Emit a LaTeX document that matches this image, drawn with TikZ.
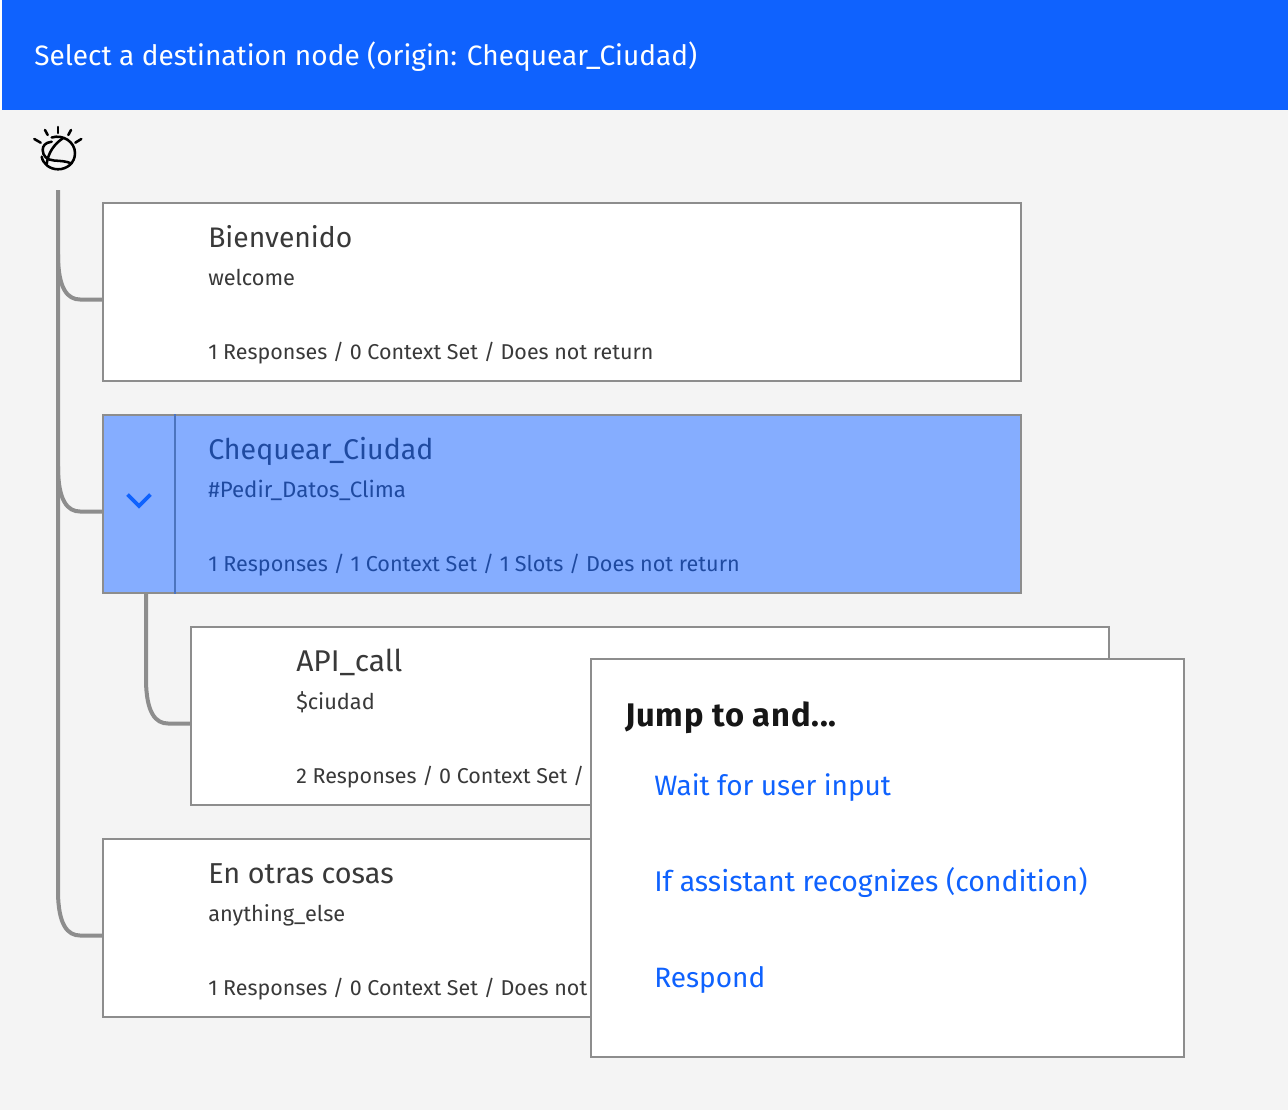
\documentclass[tikz,border=0pt]{standalone}
\usepackage{fontspec}
\setmainfont{Fira Sans}
\usetikzlibrary{calc}
\definecolor{hdr}{HTML}{0F62FE}
\definecolor{bgc}{HTML}{F4F4F4}
\definecolor{linec}{HTML}{8D8D8D}
\definecolor{selc}{HTML}{85ADFF}
\definecolor{txtc}{HTML}{393939}
\definecolor{seltxt}{HTML}{1F4AA0}
\definecolor{sepc}{HTML}{4C74BE}
\definecolor{headc}{HTML}{161616}
\newfontfamily\headfont[LetterSpace=2.4]{Fira Sans}
\tikzset{
 x=0.75pt,y=-0.75pt,
 card/.style={draw=linec,line width=1.5pt,fill=white,anchor=north west,minimum width=918*0.75pt,minimum height=178*0.75pt,inner sep=0pt},
 sel/.style={card,fill=selc},
 popup/.style={draw=linec,line width=1.5pt,fill=white,anchor=north west,minimum width=593*0.75pt,minimum height=398*0.75pt,inner sep=0pt},
 tree/.style={draw=linec,line width=3pt},
 ttl/.style={anchor=base west,inner sep=0pt,text=txtc,font=\fontsize{21.2}{25}\selectfont},
 sub/.style={anchor=base west,inner sep=0pt,text=txtc,font=\fontsize{16.3}{19}\selectfont},
 foot/.style={anchor=base west,inner sep=0pt,text=txtc,font=\fontsize{16.1}{19}\selectfont},
 lnk/.style={anchor=base west,inner sep=0pt,text=hdr,font=\fontsize{21}{25}\selectfont},
 icon/.style={line width=1.9pt,black,line cap=round},
}
\begin{document}
\begin{tikzpicture}
\useasboundingbox (0,0) rectangle (1288,1110);
\fill[bgc] (0,0) rectangle (1288,1110);
\fill[white] (0,0) rectangle (2,110);
\node[fill=hdr,anchor=north west,minimum width=1286*0.75pt,minimum height=110*0.75pt,inner sep=0pt] (header) at (2,0) {};
\node[anchor=base west,inner sep=0pt,text=white,font=\fontsize{21.03}{26}\selectfont] (title) at (34,65) {Select a destination node (origin: Chequear\_Ciudad)};
% icon
\begin{scope}[icon]
\draw (58,127)--(58,133);
\draw (45,130)--(47.700,135);
\draw (71,130)--(68.300,135);
\draw (34.300,139)--(40.700,142.700);
\draw (81.300,139)--(75.300,142.700);
\draw (51.700,137.500) .. controls (63,134) and (75,142) .. (75,153) .. controls (75,163) and (67,169.300) .. (58,169.300) .. controls (50,169.300) and (43,164) .. (41.700,156.700);
\draw (51.700,141.700) .. controls (45,142.500) and (42.700,146) .. (42.700,150) .. controls (42.700,156) and (47,160) .. (54,160.500) .. controls (60,161) and (66,161) .. (71.700,163.500);
\draw (63.300,138) .. controls (54,144) and (48,153) .. (46.700,164);
\end{scope}
% cards
\node[card] (bien) at (102,202) {};
\node[sel] (cheq) at (102,414) {};
\node[card] (api) at (190,626) {};
\node[card] (otras) at (102,838) {};
\coordinate (top) at (58,190);
\coordinate (tb) at ($(bien.north west)+(0,97.5)$);
\coordinate (tc) at ($(cheq.north west)+(0,97.5)$);
\coordinate (ta) at ($(api.north west)+(0,97.5)$);
\coordinate (to) at ($(otras.north west)+(0,97.5)$);
\coordinate (cb) at (146,593);
\draw[tree] (top) -- ($(58,0 |- to)+(0,-45)$) .. controls ($(58,0 |- to)+(0,-10)$) and ($(68,0 |- to)$) .. ($(80,0 |- to)$) -- (to);
\draw[tree] ($(58,0 |- tb)+(0,-45)$) .. controls ($(58,0 |- tb)+(0,-10)$) and ($(68,0 |- tb)$) .. ($(80,0 |- tb)$) -- (tb);
\draw[tree] ($(58,0 |- tc)+(0,-45)$) .. controls ($(58,0 |- tc)+(0,-10)$) and ($(68,0 |- tc)$) .. ($(80,0 |- tc)$) -- (tc);
\draw[tree] (cb) -- ($(146,0 |- ta)+(0,-45)$) .. controls ($(146,0 |- ta)+(0,-10)$) and ($(156,0 |- ta)$) .. ($(168,0 |- ta)$) -- (ta);
% separator & chevron
\coordinate (s1) at ($(cheq.north west)+(73,0)$);
\coordinate (s2) at ($(cheq.south west)+(73,0)$);
\draw[sepc,line width=1.5pt] (s1) -- (s2);
\draw[hdr,line width=2.7pt] (127.500,494.500) -- (139,506) -- (150.500,494.500);
% texts
\node[ttl] (t1) at (208,247.500) {Bienvenido};
\node[sub] (t1b) at (208,285) {welcome};
\node[foot] (t1c) at (208,359) {1 Responses / 0 Context Set / Does not return};
\node[ttl,text=seltxt,font=\fontsize{21.4}{25}\selectfont] (t2) at (208,459.500) {Chequear\_Ciudad};
\node[sub,text=seltxt,font=\fontsize{16.7}{19}\selectfont] (t2b) at (208,497.500) {\#Pedir\_Datos\_Clima};
\node[foot,text=seltxt,font=\fontsize{16.2}{19}\selectfont] (t2c) at (208,571) {1 Responses / 1 Context Set / 1 Slots / Does not return};
\node[ttl,font=\fontsize{22.5}{25}\selectfont] (t3) at (296,671.500) {API\_call};
\node[sub] (t3b) at (296,709) {\$ciudad};
\node[foot] (t3c) at (296,783) {2 Responses / 0 Context Set /};
\node[ttl,font=\fontsize{21.6}{25}\selectfont] (t4) at (208,883.500) {En otras cosas};
\node[sub] (t4b) at (208,921) {anything\_else};
\node[foot] (t4c) at (208,995) {1 Responses / 0 Context Set / Does not};
% popup
\node[popup] (pop) at (590,658) {};
\node[anchor=base west,inner sep=0pt,text=headc,font=\fontsize{24.5}{28}\headfont\bfseries] (ph) at (625,726) {Jump to and...};
\node[lnk] (l1) at (654,795) {Wait for user input};
\node[lnk,font=\fontsize{21.35}{25}\selectfont] (l2) at (654,891) {If assistant recognizes (condition)};
\node[lnk] (l3) at (654,987) {Respond};
\end{tikzpicture}
\end{document}
